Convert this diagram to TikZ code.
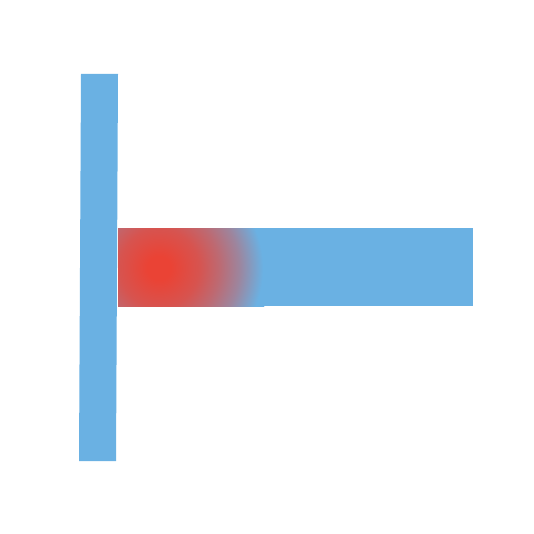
\documentclass[tikz,border=0pt]{standalone}
\usetikzlibrary{calc}

\definecolor{barblue}{HTML}{6AB1E3}
\definecolor{glowred}{HTML}{EA4335}

% red glow fading into the bar colour
\pgfdeclareradialshading{redglow}{\pgfpoint{0bp}{0bp}}{%
    color(0bp)=(glowred);
    color(2.7bp)=(glowred);
    color(8.9bp)=(glowred!85!barblue);
    color(13.4bp)=(glowred!65!barblue);
    color(17.9bp)=(glowred!40!barblue);
    color(23.2bp)=(barblue);
    color(50bp)=(barblue)}

\begin{document}
\begin{tikzpicture}[
    x=1pt, y=-1pt,
    % Define styles
    bar/.style={
        fill=barblue,
        draw=none
    }
]
\useasboundingbox (0,0) rectangle (534,534);

% Vertical bar (slightly leaning)
\fill[bar] (81,74) -- (118,74) -- (116,461) -- (79,461) -- cycle;

% Horizontal bar
\coordinate (hbarNW) at (118,228);
\coordinate (hbarSE) at (473,306);
\fill[bar] (hbarNW) rectangle (hbarSE);

% Hot spot
\coordinate (spot) at (159,268);
\begin{scope}
    \clip (hbarNW) rectangle (hbarSE);
    \shade[shading=redglow] (spot) circle (112);
\end{scope}

\end{tikzpicture}
\end{document}
